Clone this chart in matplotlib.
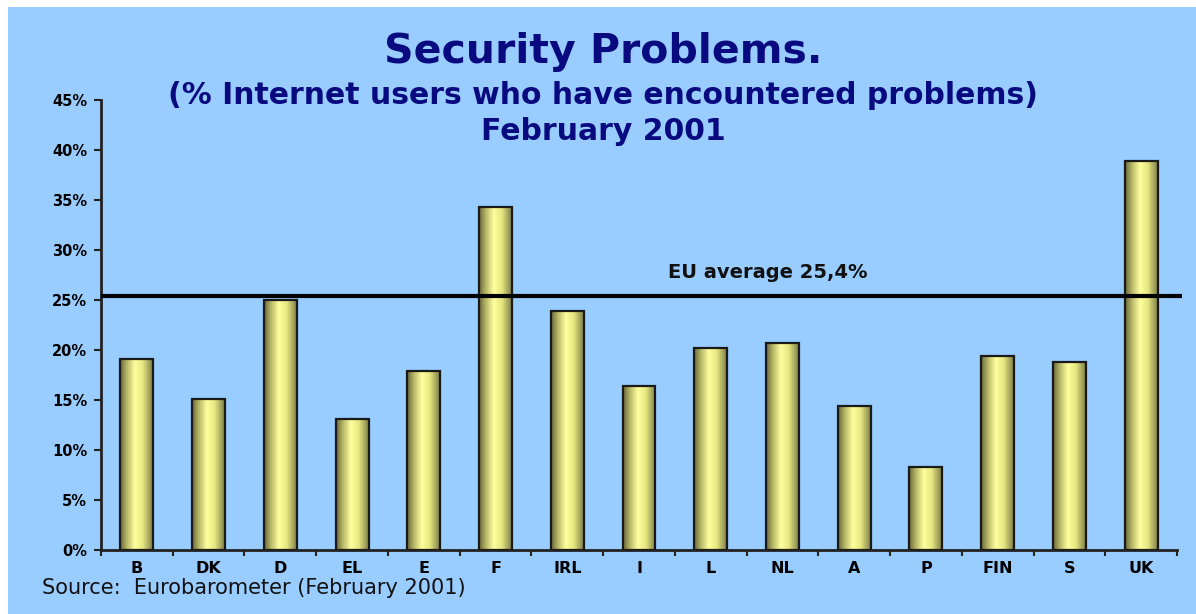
import numpy as np
import matplotlib
matplotlib.use("Agg")
import matplotlib.pyplot as plt
from matplotlib.colors import LinearSegmentedColormap
from matplotlib.patches import Rectangle
from matplotlib.ticker import FuncFormatter

plt.rcParams['font.family'] = ['DejaVu Sans']

countries = ["B", "DK", "D", "EL", "E", "F", "IRL", "I", "L", "NL", "A", "P", "FIN", "S", "UK"]
share_pct = [19.1, 15.1, 25.0, 13.1, 17.9, 34.3, 23.9, 16.4, 20.2, 20.7, 14.4, 8.3, 19.4, 18.8, 38.9]
eu_average = 25.4
y_ticks = [0, 5, 10, 15, 20, 25, 30, 35, 40, 45]

BG = "#99ccff"
NAVY = "#0a0a80"

fig = plt.figure(figsize=(11.96, 6.14), dpi=100)
fig.patch.set_facecolor("white")
# light-blue panel behind everything
fig.add_artist(Rectangle((8 / 1196, 0), 1, 1 - 7 / 614, transform=fig.transFigure,
                         facecolor=BG, edgecolor="none", zorder=-10))

ax = fig.add_axes([101 / 1196, 64 / 614, 1076 / 1196, 450 / 614])
ax.set_facecolor(BG)
ax.patch.set_alpha(0)

x = np.arange(len(countries))
width = 0.46

# cylinder-style shading for the bars
cyl = LinearSegmentedColormap.from_list(
    "cyl", [(0.0, "#66663a"), (0.18, "#b0b062"), (0.45, "#ffff9e"),
            (0.7, "#e6e680"), (1.0, "#7e7e48")])
grad = np.linspace(0, 1, 64).reshape(1, -1)

bars = ax.bar(x, share_pct, width=width, facecolor="none", edgecolor="#1a1a1a",
              linewidth=1.6, zorder=3)
for b in bars:
    x0, y0 = b.get_x(), b.get_y()
    w, h = b.get_width(), b.get_height()
    im = ax.imshow(grad, cmap=cyl, aspect="auto", extent=(x0, x0 + w, y0, y0 + h),
                   zorder=2, interpolation="bilinear")
    clip = Rectangle((x0, y0), w, h, transform=ax.transData, facecolor="none", edgecolor="none")
    ax.add_patch(clip)
    im.set_clip_path(clip)

# EU average line
ax.plot([-0.5, 14.57], [eu_average, eu_average], color="black", lw=3.0, zorder=4,
        solid_capstyle="butt", clip_on=False)
ax.text(8.8, eu_average + 2.3, f"EU average {str(eu_average).replace('.', ',')}%",
        ha="center", va="center", fontsize=14, fontweight="bold", color="#111111")

ax.set_xlim(-0.5, len(countries) - 0.5)
ax.set_ylim(0, 45)
ax.set_yticks(y_ticks)
ax.yaxis.set_major_formatter(FuncFormatter(lambda v, p: f"{int(v)}%"))
ax.set_xticks(x)
ax.set_xticklabels(countries, fontsize=11.5, fontweight="bold")
ax.set_xticks(np.arange(-0.5, len(countries), 1), minor=True)
ax.tick_params(axis="x", which="major", length=0, pad=8)
ax.tick_params(axis="x", which="minor", length=4, width=1.5, direction="out", color="#222222")
ax.tick_params(axis="y", length=5, width=1.5, direction="out", color="#222222", pad=5)
for lab in ax.get_yticklabels():
    lab.set_fontweight("bold")
    lab.set_fontsize(10.5)

for s in ["top", "right"]:
    ax.spines[s].set_visible(False)
for s in ["left", "bottom"]:
    ax.spines[s].set_linewidth(2)
    ax.spines[s].set_color("#222222")

fig.text(603 / 1196, 1 - 52 / 614, "Security Problems.", ha="center", va="center",
         fontsize=29.5, fontweight="bold", color=NAVY)
fig.text(603 / 1196, 1 - 96 / 614, "(% Internet users who have encountered problems)",
         ha="center", va="center", fontsize=21.5, fontweight="bold", color=NAVY)
fig.text(603 / 1196, 1 - 131 / 614, "February 2001", ha="center", va="center",
         fontsize=21.5, fontweight="bold", color=NAVY)
fig.text(42 / 1196, 1 - 588 / 614, "Source:  Eurobarometer (February 2001)",
         ha="left", va="center", fontsize=15, color="#111111")

fig.savefig("out.png", dpi=100, facecolor=fig.get_facecolor())
